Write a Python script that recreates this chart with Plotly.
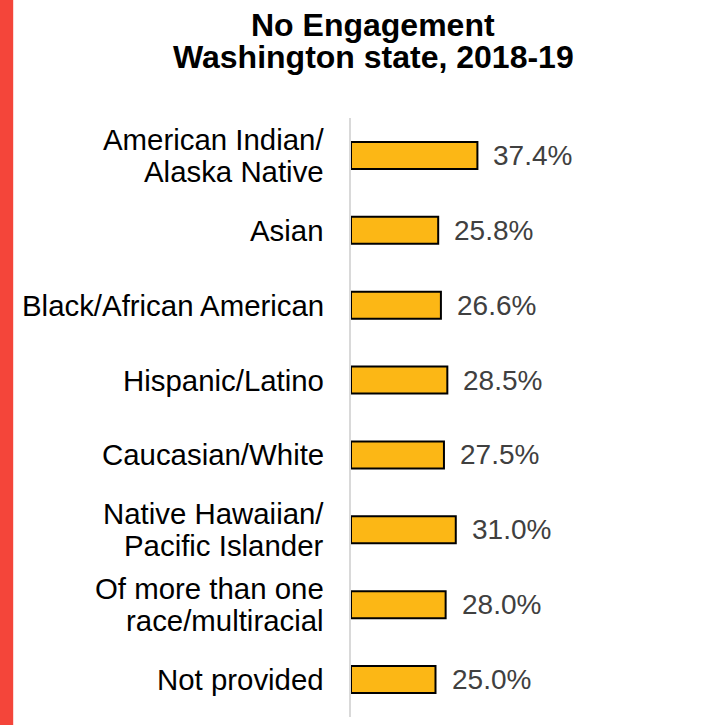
import plotly.graph_objects as go

# Share of students with no engagement, by race/ethnicity
categories = [
    "American Indian/<br>Alaska Native",
    "Asian",
    "Black/African American",
    "Hispanic/Latino",
    "Caucasian/White",
    "Native Hawaiian/<br>Pacific Islander",
    "Of more than one<br>race/multiracial",
    "Not provided",
]
values = [37.4, 25.8, 26.6, 28.5, 27.5, 31.0, 28.0, 25.0]
value_labels = [f"{v:.1f}%" for v in values]
title_lines = ["No Engagement", "Washington state, 2018-19"]

FONT = "Liberation Sans, Arial, sans-serif"
W, H = 713, 725
L, R, T, B = 350.5, 23.8, 117.5, 7.5
plot_w = W - L - R
plot_h = H - T - B


def px_x(x):
    return (x - L) / plot_w


def px_y(y):
    return (H - B - y) / plot_h


fig = go.Figure(
    go.Bar(
        x=values,
        y=categories,
        orientation="h",
        marker=dict(color="#FCB715", line=dict(color="#000000", width=2)),
        width=0.36,
        hoverinfo="skip",
    )
)

# value labels to the right of each bar
for cat, v, lab in zip(categories, values, value_labels):
    fig.add_annotation(
        x=v, y=cat, text=lab, showarrow=False,
        xanchor="left", yanchor="middle", xshift=14,
        font=dict(family=FONT, size=28, color="#404040"),
    )

# category labels, right-aligned against the axis, tight line spacing
LINE = 32
for cat in categories:
    parts = cat.split("<br>")
    n = len(parts)
    for i, part in enumerate(parts):
        fig.add_annotation(
            xref="paper", x=px_x(325), y=cat, text=part, showarrow=False,
            xanchor="right", yanchor="middle",
            yshift=((n - 1) / 2 - i) * LINE,
            font=dict(family=FONT, size=29.4, color="#000000"),
        )

# two-line bold title
for line, yc in zip(title_lines, [24, 56]):
    fig.add_annotation(
        xref="paper", yref="paper", x=px_x(373), y=px_y(yc),
        text=f"<b>{line}</b>", showarrow=False,
        xanchor="center", yanchor="middle",
        font=dict(family=FONT, size=32, color="#000000"),
    )

# red accent strip on the left edge
fig.add_shape(
    type="rect", xref="paper", yref="paper",
    x0=px_x(-5), x1=px_x(12),
    y0=px_y(H + 10), y1=px_y(-10),
    fillcolor="#F4453A", line=dict(width=0), layer="below",
)

fig.update_layout(
    width=W, height=H,
    margin=dict(l=L, r=R, t=T, b=B, pad=0),
    paper_bgcolor="white", plot_bgcolor="white",
    showlegend=False,
    xaxis=dict(range=[0, 100], visible=False, fixedrange=True),
    yaxis=dict(
        autorange="reversed",
        showline=True, linecolor="#D9D9D9", linewidth=2,
        showgrid=False, zeroline=False, ticks="",
        showticklabels=False,
    ),
)

fig.write_html("out.html")
